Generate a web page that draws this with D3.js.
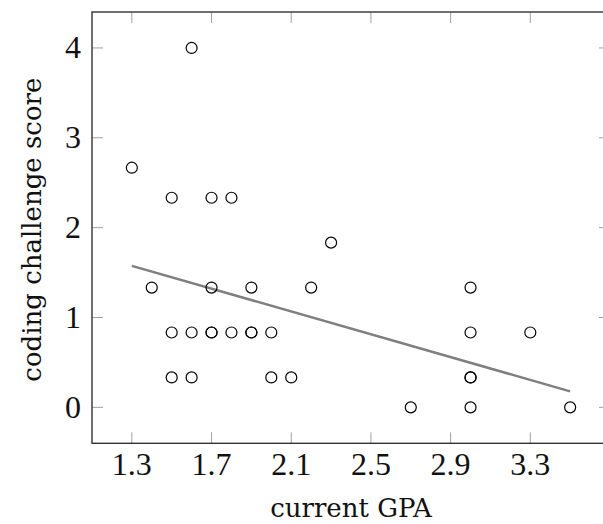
<!DOCTYPE html>
<html>
<head>
<meta charset="UTF-8">
<title>coding challenge score vs GPA</title>
<script src="https://cdn.jsdelivr.net/npm/d3@7"></script>
<style>
  body { margin: 0; background: #fff; }
  svg { display: block; }
</style>
</head>
<body>
<div id="chart"></div>
<script>
// data
const gpa   = [1.3, 1.6, 1.5, 1.7, 1.8, 2.3, 1.4, 1.7, 1.9, 2.2, 3.0, 1.5, 1.6, 1.7, 1.7, 1.8, 1.9, 1.9, 2.0, 3.0, 3.3, 1.5, 1.6, 2.0, 2.1, 3.0, 3.0, 2.7, 3.0, 3.5];
const score = [2.667, 4, 2.333, 2.333, 2.333, 1.833, 1.333, 1.333, 1.333, 1.333, 1.333, 0.833, 0.833, 0.833, 0.833, 0.833, 0.833, 0.833, 0.833, 0.833, 0.833, 0.333, 0.333, 0.333, 0.333, 0.333, 0.333, 0, 0, 0];
const fitX = [1.3, 3.5];
const fitY = [1.575, 0.178];
const xTicks = [1.3, 1.7, 2.1, 2.5, 2.9, 3.3];
const yTicks = [0, 1, 2, 3, 4];

const width = 603, height = 524;
const plotL = 92, plotR = 610, plotT = 12, plotB = 443.3;

const svg = d3.select("#chart").append("svg")
  .attr("width", width)
  .attr("height", height);

const x = d3.scaleLinear().domain([1.1, 3.7]).range([plotL, plotR]);
const y = d3.scaleLinear().domain([-0.4, 4.4]).range([plotB, plotT]);

const tickLen = 11;

// ticks on all four sides, pointing inward
const tickG = svg.append("g").attr("stroke", "#a0a0a0").attr("stroke-width", 1);
xTicks.forEach(t => {
  tickG.append("line").attr("x1", x(t)).attr("x2", x(t)).attr("y1", plotB).attr("y2", plotB - tickLen);
  tickG.append("line").attr("x1", x(t)).attr("x2", x(t)).attr("y1", plotT).attr("y2", plotT + tickLen);
});
yTicks.forEach(t => {
  tickG.append("line").attr("x1", plotL).attr("x2", plotL + tickLen).attr("y1", y(t)).attr("y2", y(t));
  tickG.append("line").attr("x1", plotR).attr("x2", plotR - tickLen).attr("y1", y(t)).attr("y2", y(t));
});

// frame
svg.append("rect")
  .attr("x", plotL).attr("y", plotT)
  .attr("width", plotR - plotL).attr("height", plotB - plotT)
  .attr("fill", "none")
  .attr("stroke", "#333")
  .attr("stroke-width", 1.4);

// tick labels
svg.append("g").selectAll("text")
  .data(xTicks)
  .join("text")
  .attr("x", d => x(d))
  .attr("y", 475)
  .attr("text-anchor", "middle")
  .attr("font-family", "'Liberation Serif', serif")
  .attr("font-size", "32px")
  .attr("fill", "#111")
  .text(d => d.toFixed(1));

svg.append("g").selectAll("text")
  .data(yTicks)
  .join("text")
  .attr("x", 81)
  .attr("y", d => y(d) + 10.5)
  .attr("text-anchor", "end")
  .attr("font-family", "'Liberation Serif', serif")
  .attr("font-size", "32px")
  .attr("fill", "#111")
  .text(d => d);

// regression line
svg.append("line")
  .attr("x1", x(fitX[0])).attr("y1", y(fitY[0]))
  .attr("x2", x(fitX[1])).attr("y2", y(fitY[1]))
  .attr("stroke", "#7f7f7f")
  .attr("stroke-width", 2.5);

// points
svg.append("g").selectAll("circle")
  .data(d3.range(gpa.length))
  .join("circle")
  .attr("cx", i => x(gpa[i]))
  .attr("cy", i => y(score[i]))
  .attr("r", 5.5)
  .attr("fill", "none")
  .attr("stroke", "#000")
  .attr("stroke-width", 1.2);

// axis labels
svg.append("text")
  .attr("x", (plotL + plotR) / 2)
  .attr("y", 517)
  .attr("text-anchor", "middle")
  .attr("font-family", "'DejaVu Serif', serif")
  .attr("font-size", "26px")
  .attr("fill", "#111")
  .text("current GPA");

svg.append("text")
  .attr("transform", `translate(41,${(plotT + plotB) / 2 + 2}) rotate(-90)`)
  .attr("text-anchor", "middle")
  .attr("font-family", "'DejaVu Serif', serif")
  .attr("font-size", "26px")
  .attr("fill", "#111")
  .text("coding challenge score");
</script>
</body>
</html>
